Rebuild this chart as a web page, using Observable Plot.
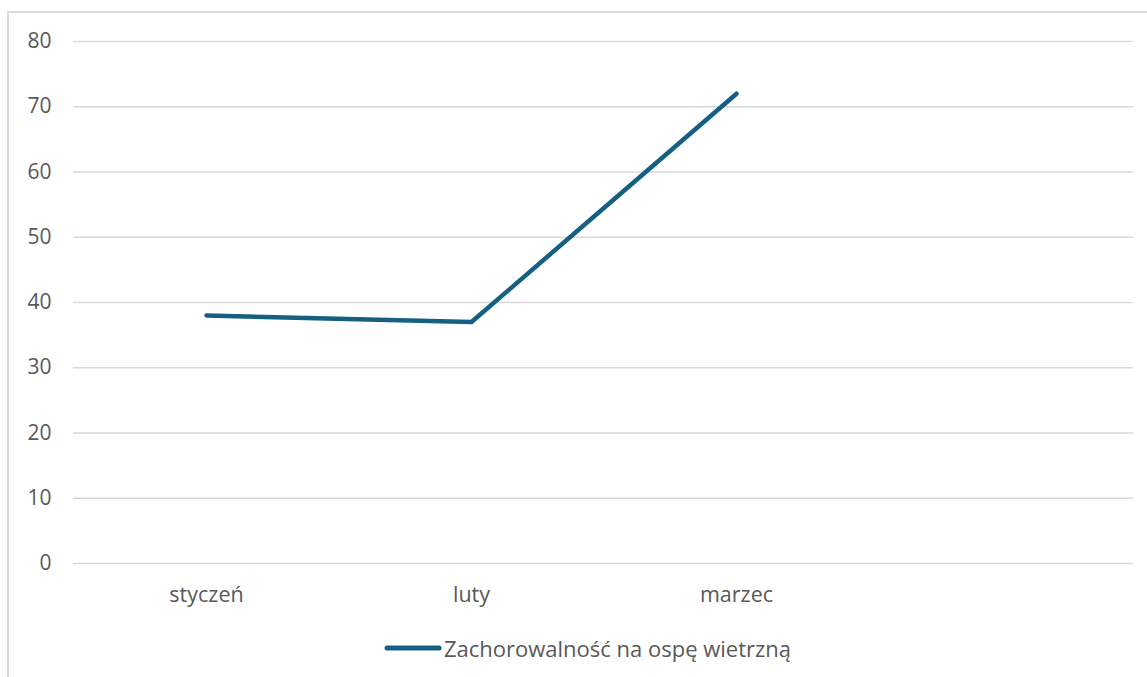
<!DOCTYPE html>
<html><head><meta charset="utf-8">
<script src="https://cdn.jsdelivr.net/npm/d3@7"></script>
<script src="https://cdn.jsdelivr.net/npm/@observablehq/plot@0.6"></script>
<style>
html,body{margin:0;padding:0;background:#fff;width:1147px;height:677px;overflow:hidden;}
#frame{position:absolute;left:7px;top:11px;width:1200px;height:700px;border-left:2px solid #d9d9d9;border-top:2px solid #d9d9d9;box-sizing:border-box;}
#chart{position:absolute;left:0;top:0;}
#legend{position:absolute;left:0;top:628px;width:1175px;text-align:center;font-family:"Open Sans",sans-serif;font-size:22px;color:#595959;}
#legend span{display:inline-flex;align-items:center;gap:2px;}
</style></head><body>
<div id="frame"></div>
<div id="chart"></div>
<div id="legend"></div>
<script>
const categories = ["styczeń", "luty", "marzec", ""];
const values = [38, 37, 72];
const yTicks = [0, 10, 20, 30, 40, 50, 60, 70, 80];
const seriesName = "Zachorowalność na ospę wietrzną";
const color = "#156082";

const data = values.map((v, i) => ({cat: categories[i], v}));

const chart = Plot.plot({
  width: 1147,
  height: 610,
  marginLeft: 73,
  marginRight: 14,
  marginTop: 41,
  marginBottom: 47,
  style: {fontFamily: '"Open Sans", sans-serif', fontSize: "21px", color: "#595959", background: "transparent"},
  x: {type: "point", domain: categories, padding: 0.5, label: null},
  y: {domain: [0, 80], label: null},
  marks: [
    Plot.gridY(yTicks, {stroke: "#d9d9d9", strokeOpacity: 1, strokeWidth: 1.5}),
    Plot.axisY(yTicks, {tickSize: 0, tickPadding: 22, textAnchor: "end", fill: "#595959", fontSize: 21}),
    Plot.axisX(categories.filter(c => c !== ""), {tickSize: 0, tickPadding: 23, fill: "#595959", fontSize: 21.5}),
    Plot.line(data, {x: "cat", y: "v", stroke: color, strokeWidth: 4.5, strokeLinecap: "round", strokeLinejoin: "round"})
  ]
});
document.getElementById("chart").appendChild(chart);

const lg = document.getElementById("legend");
lg.innerHTML = `<span><svg width="58" height="8"><line x1="3" y1="4" x2="55" y2="4" stroke="${color}" stroke-width="5" stroke-linecap="round"/></svg>${seriesName}</span>`;
</script>
</body></html>
